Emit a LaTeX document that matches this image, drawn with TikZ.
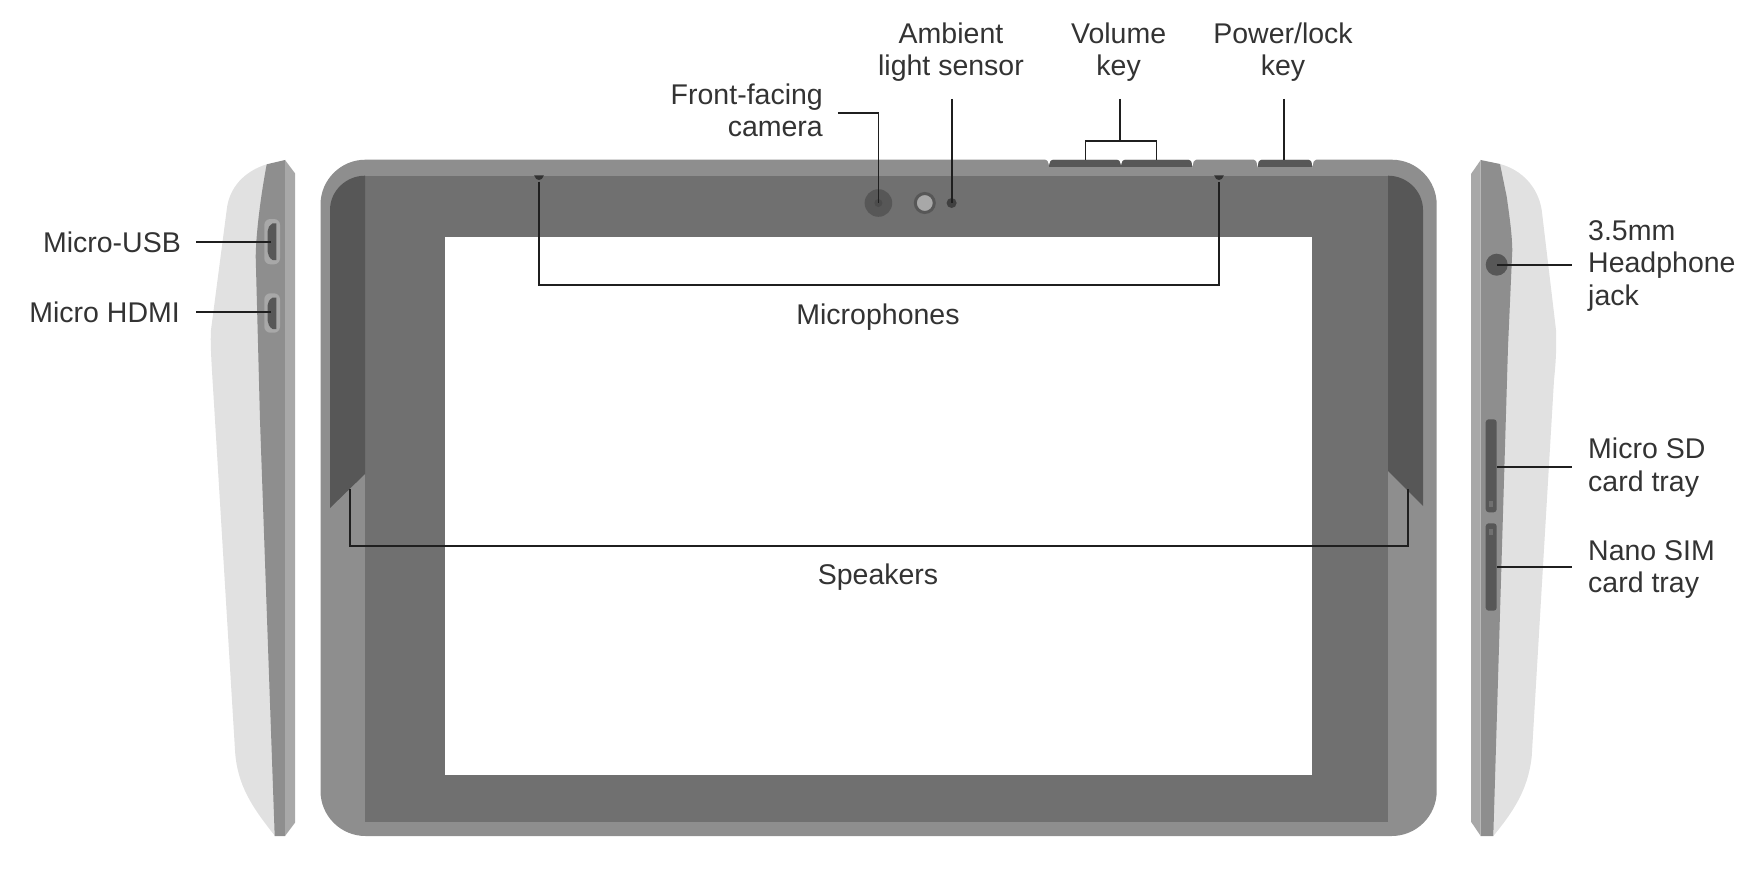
\documentclass[tikz,border=0pt]{standalone}
\usepackage{fontspec}
\setmainfont{Liberation Sans}
\definecolor{bodygray}{HTML}{8E8E8E}
\definecolor{facegray}{HTML}{707070}
\definecolor{darkpart}{HTML}{575757}
\definecolor{edgegray}{HTML}{A8A8A8}
\definecolor{backgray}{HTML}{E1E1E1}
\definecolor{inkgray}{HTML}{333333}
\tikzset{
  leader/.style={draw=black!88, line width=1.8pt},
  lbl/.style={text=inkgray, inner sep=0pt, font=\fontsize{28.5}{32.6}\selectfont},
}
\begin{document}
\begin{tikzpicture}[x=1pt,y=-1pt]
\useasboundingbox (0,0) rectangle (1754,880);
% tablet front
\fill[bodygray, rounded corners=45pt] (320.5,159.7) rectangle (1436.7,836);
\fill[facegray] (365,175.7) rectangle (1388,821.7);
\fill[darkpart] (365,175.7) -- (365,474) -- (330,508) -- (330,210) .. controls (330,191) and (346,175.7) .. (365,175.7) -- cycle;
\fill[darkpart] (1388,175.7) -- (1388,471) -- (1423,506) -- (1423,210) .. controls (1423,191) and (1407,175.7) .. (1388,175.7) -- cycle;
\fill[white] (445,237) rectangle (1312,775);
% keys
\fill[darkpart] (1049,159.7) rectangle (1192.5,167.3);
\fill[darkpart] (1258,159.7) rectangle (1312.5,167.3);
\fill[white] (1045,159) .. controls (1047.5,159.5) and (1048.5,162) .. (1049,165) .. controls (1049.5,162) and (1050.5,159.5) .. (1053,159) -- cycle;
\fill[white] (1117,159) .. controls (1119.5,159.5) and (1120.5,162) .. (1121,165) .. controls (1121.5,162) and (1122.5,159.5) .. (1125,159) -- cycle;
\fill[white] (1188.5,159) .. controls (1191,159.5) and (1192,162) .. (1192.5,167.3) .. controls (1193,162) and (1194,159.5) .. (1196.5,159) -- cycle;
\fill[white] (1253.5,159) .. controls (1256,159.5) and (1257,162) .. (1257.5,167.3) .. controls (1258,162) and (1259,159.5) .. (1261.5,159) -- cycle;
\fill[white] (1308.5,159) .. controls (1311,159.5) and (1312,162) .. (1312.5,167.3) .. controls (1313,162) and (1314,159.5) .. (1316.5,159) -- cycle;
% camera, sensor and microphones
\fill[darkpart] (878.4,203) circle (13.8);
\fill[black!70] (878.4,203) circle (4);
\draw[fill=edgegray, draw=darkpart, line width=3pt] (924.8,203) circle (9.5);
\fill[black!75] (951.6,203) circle (5);
\fill[inkgray] (534.2,175.5) -- (543.8,175.5) .. controls (543,178.5) and (541,180) .. (539,180) .. controls (537,180) and (535,178.5) .. (534.2,175.5) -- cycle;
\fill[inkgray] (1214.2,175.5) -- (1223.8,175.5) .. controls (1223,178.5) and (1221,180) .. (1219,180) .. controls (1217,180) and (1215,178.5) .. (1214.2,175.5) -- cycle;
% left side view
\fill[backgray] (266.7,164.3) .. controls (245,171) and (229,187) .. (226.7,210) -- (211,330) .. controls (210,345) and (212,370) .. (215,420) -- (235,750) .. controls (237,785) and (252,807) .. (275,836) -- cycle;
\fill[bodygray] (266.7,164.3) -- (285,160) -- (285,836) -- (274.7,836) -- (260,420) -- (258,343) -- (255.7,256.7) .. controls (256,235) and (260,200) .. (266.7,164.3) -- cycle;
\fill[edgegray] (285,160) -- (295,173.3) -- (295,822.7) -- (285,836) -- cycle;
\fill[edgegray, rounded corners=6pt] (264.3,219) rectangle (280,264.3);
\fill[darkpart] (276.3,223.3) -- (276.3,260) -- (272.5,260) .. controls (269.5,258) and (267.7,255) .. (267.7,252) -- (267.7,231) .. controls (267.7,228) and (269.5,225) .. (272.5,223.3) -- cycle;
\fill[edgegray, rounded corners=6pt] (264.3,293.3) rectangle (280,332.7);
\fill[darkpart] (276.3,297.7) -- (276.3,329) -- (272.5,329) .. controls (269.5,327) and (267.7,324) .. (267.7,321) -- (267.7,305) .. controls (267.7,302) and (269.5,299.5) .. (272.5,297.7) -- cycle;
% right side view
\fill[backgray] (1500,164) .. controls (1522,170) and (1538,187) .. (1541.7,210) -- (1556,330) .. controls (1556.5,350) and (1556,360) .. (1554,380) -- (1531.7,756.7) .. controls (1528,790) and (1513,812) .. (1493.3,836) -- cycle;
\fill[bodygray] (1480.7,160) -- (1500,164) -- (1506.7,196.7) .. controls (1510,220) and (1512,235) .. (1512.3,250) -- (1508,346.7) -- (1493.3,836) -- (1480.7,836) -- cycle;
\fill[edgegray] (1480.7,160) -- (1471,174) -- (1471,821.7) -- (1480.7,836) -- cycle;
\fill[darkpart] (1496.7,264.7) circle (11);
\fill[darkpart, rounded corners=3pt] (1485.7,419.3) rectangle (1496.7,512.3);
\fill[darkpart, rounded corners=3pt] (1485.7,523.3) rectangle (1496.7,610.7);
\fill[facegray] (1488.7,501) rectangle (1493.3,507);
\fill[facegray] (1488.7,529) rectangle (1493.3,535);
% points the leaders go to
\coordinate (cameradot) at (878.4,203);
\coordinate (sensordot) at (951.6,203);
\coordinate (volleft) at (1085.5,160);
\coordinate (volright) at (1156.5,160);
\coordinate (powerkey) at (1283.7,160);
\coordinate (micleft) at (539,181.7);
\coordinate (micright) at (1219,181.7);
\coordinate (spkleft) at (350,489);
\coordinate (spkright) at (1408.3,489);
\coordinate (usbport) at (270.7,241.7);
\coordinate (hdmiport) at (270.7,311.7);
\coordinate (jackhole) at (1496.7,264.7);
\coordinate (sdtray) at (1496.7,466.7);
\coordinate (simtray) at (1496.7,566.7);
% labels
\node[lbl, align=right, anchor=base east] (cameralbl) at (823,136.7) {Front-facing\\camera};
\node[lbl, align=center, anchor=base] (sensorlbl) at (951,76) {Ambient\\light sensor};
\node[lbl, align=center, anchor=base] (volumelbl) at (1118.6,76) {Volume\\key};
\node[lbl, align=center, anchor=base] (powerlbl) at (1283,76) {Power/lock\\key};
\node[lbl, anchor=center] (miclbl) at (878,317) {Microphones};
\node[lbl, anchor=center] (spklbl) at (878,577.5) {Speakers};
\node[lbl, anchor=base east] (usblbl) at (181,252) {Micro-USB};
\node[lbl, anchor=base east] (hdmilbl) at (180,322) {Micro HDMI};
\node[lbl, align=left, anchor=base west] (jacklbl) at (1588,305.5) {3.5mm\\Headphone\\jack};
\node[lbl, align=left, anchor=base west] (sdlbl) at (1588,491) {Micro SD\\card tray};
\node[lbl, align=left, anchor=base west] (simlbl) at (1588,592.7) {Nano SIM\\card tray};
% leaders
\coordinate (camerafree) at (837.8,113.3);
\coordinate (sensorfree) at (951.6,99);
\coordinate (volumefree) at (1120,99);
\coordinate (volumefork) at (1120,140.7);
\coordinate (powerfree) at (1283.7,99);
\coordinate (micfork) at (878,285);
\coordinate (spkfork) at (878,546);
\coordinate (usbfree) at (196,241.7);
\coordinate (hdmifree) at (196,311.7);
\coordinate (jackfree) at (1571.7,264.7);
\coordinate (sdfree) at (1571.7,466.7);
\coordinate (simfree) at (1571.7,566.7);
\draw[leader] (camerafree) -| (cameradot);
\draw[leader] (sensorfree) -- (sensordot);
\draw[leader] (volumefree) -- (volumefork);
\draw[leader] (volleft) |- (volumefork) -| (volright);
\draw[leader] (powerfree) -- (powerkey);
\draw[leader] (micleft) |- (micfork) -| (micright);
\draw[leader] (spkleft) |- (spkfork) -| (spkright);
\draw[leader] (usbfree) -- (usbport);
\draw[leader] (hdmifree) -- (hdmiport);
\draw[leader] (jackfree) -- (jackhole);
\draw[leader] (sdfree) -- (sdtray);
\draw[leader] (simfree) -- (simtray);
\end{tikzpicture}
\end{document}
